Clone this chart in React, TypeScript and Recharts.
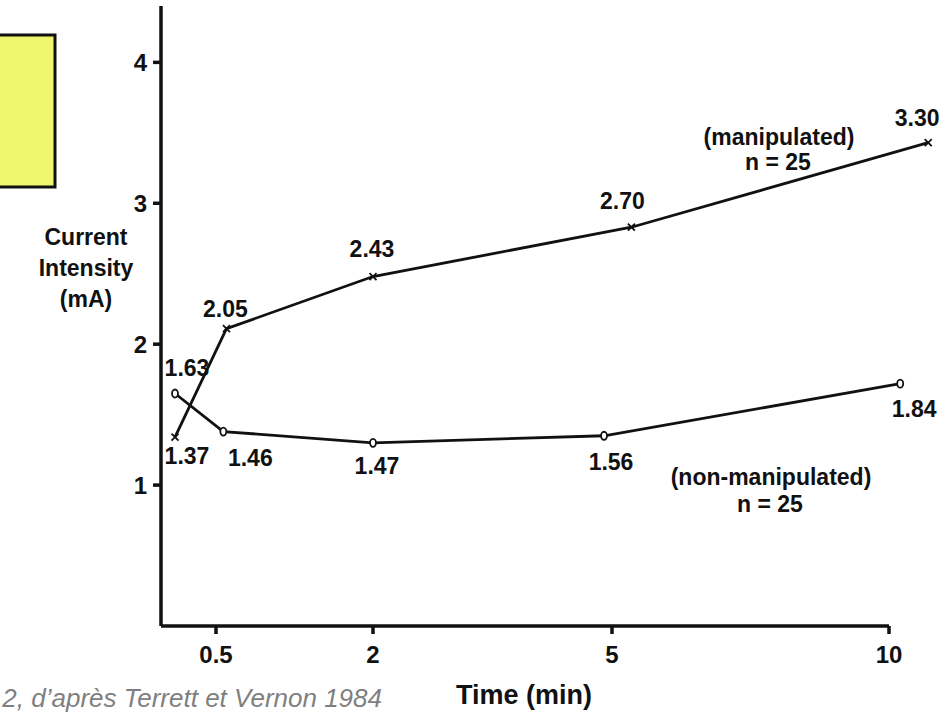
import React from "react";
import { LineChart, Line, XAxis, YAxis, ReferenceLine } from "recharts";

// time (min) of each measurement, as plotted in the figure
const manipTime = [0, 0.6, 2.0, 5.35, 10.7];
const manipValue = [1.34, 2.11, 2.48, 2.83, 3.43];
const manipLabels = ["1.37", "2.05", "2.43", "2.70", "3.30"];

const nonTime = [0, 0.57, 2.0, 4.9, 10.2];
const nonValue = [1.65, 1.38, 1.3, 1.35, 1.72];
const nonLabels = ["1.63", "1.46", "1.47", "1.56", "1.84"];

const xTicks = [0.5, 2, 5, 10];
const yTicks = [1, 2, 3, 4];

// the original time axis is hand drawn: piecewise spacing between the ticks
const X_KNOTS = [-0.3, 0, 0.5, 2, 5, 10, 11];
const X_SPACING = [0, 14, 55, 212, 451, 728, 784];

// label offsets (dx, dy of text centre) relative to each point
const manipLabelOff = [[12, 19], [-1, -20], [-1, -28], [-9, -26], [-11, -25]];
const nonLabelOff = [[12, -26], [27, 26], [4, 23], [7, 26], [14, 25]];

const FONT = "'Liberation Sans', Arial, Helvetica, sans-serif";

function warpScale(dom: number[] = [X_KNOTS[0], X_KNOTS[X_KNOTS.length - 1]], rng: number[] = [0, 1]): any {
  const total = X_SPACING[X_SPACING.length - 1];
  const s: any = (v: number) => {
    let i = 0;
    while (i < X_KNOTS.length - 2 && v > X_KNOTS[i + 1]) i++;
    const t = (v - X_KNOTS[i]) / (X_KNOTS[i + 1] - X_KNOTS[i]);
    const f = (X_SPACING[i] + t * (X_SPACING[i + 1] - X_SPACING[i])) / total;
    return rng[0] + f * (rng[1] - rng[0]);
  };
  s.domain = (d?: number[]) => (d ? ((dom = d), s) : dom);
  s.range = (r?: number[]) => (r ? ((rng = r), s) : rng);
  s.copy = () => warpScale([...dom], [...rng]);
  s.ticks = () => xTicks;
  s.invert = (px: number) => {
    const f = ((px - rng[0]) / (rng[1] - rng[0])) * total;
    let i = 0;
    while (i < X_SPACING.length - 2 && f > X_SPACING[i + 1]) i++;
    const t = (f - X_SPACING[i]) / (X_SPACING[i + 1] - X_SPACING[i]);
    return X_KNOTS[i] + t * (X_KNOTS[i + 1] - X_KNOTS[i]);
  };
  return s;
}

const manipRows = manipTime.map((t, i) => ({ t, v: manipValue[i], label: manipLabels[i] }));
const nonRows = nonTime.map((t, i) => ({ t, v: nonValue[i], label: nonLabels[i] }));

function pointLabel(cx: number, cy: number, text: string, off: number[]) {
  return (
    <text
      x={cx + off[0]}
      y={cy + off[1] + 8}
      textAnchor="middle"
      fontFamily={FONT}
      fontWeight="bold"
      fontSize={23}
      fill="#111"
    >
      {text}
    </text>
  );
}

const CrossDot = (p: any) => {
  const { cx, cy, index, payload } = p;
  return (
    <g key={`m-${index}`}>
      <path
        d={`M${cx - 3.5},${cy - 3.5}L${cx + 3.5},${cy + 3.5}M${cx - 3.5},${cy + 3.5}L${cx + 3.5},${cy - 3.5}`}
        stroke="#111"
        strokeWidth={1.8}
      />
      {pointLabel(cx, cy, payload.label, manipLabelOff[index])}
    </g>
  );
};

const CircleDot = (p: any) => {
  const { cx, cy, index, payload } = p;
  return (
    <g key={`n-${index}`}>
      <ellipse cx={cx} cy={cy} rx={3} ry={4} fill="#fff" stroke="#111" strokeWidth={1.8} />
      {pointLabel(cx, cy, payload.label, nonLabelOff[index])}
    </g>
  );
};

const txt = { fontFamily: FONT, fontWeight: "bold" as const, fill: "#111" };

export default function App() {
  return (
    <div style={{ position: "absolute", left: 0, top: 0, width: 946, height: 714, background: "#fff", overflow: "hidden" }}>
      <LineChart width={946} height={714} margin={{ top: 6, right: 1, left: 101, bottom: 48 }}>
        <XAxis
          type="number"
          dataKey="t"
          domain={[X_KNOTS[0], X_KNOTS[X_KNOTS.length - 1]]}
          scale={warpScale()}
          ticks={xTicks}
          height={40}
          axisLine={false}
          tickLine={{ stroke: "#111", strokeWidth: 3.5 }}
          tickSize={8}
          tickMargin={12}
          tick={{ fontFamily: FONT, fontWeight: "bold", fontSize: 24, fill: "#111" }}
          allowDataOverflow
        />
        <YAxis
          type="number"
          domain={[0, 4.4]}
          ticks={yTicks}
          width={60}
          axisLine={{ stroke: "#111", strokeWidth: 3.5 }}
          tickLine={{ stroke: "#111", strokeWidth: 3.5 }}
          tickSize={8}
          tickMargin={6}
          tick={{ fontFamily: FONT, fontWeight: "bold", fontSize: 24, fill: "#111" }}
          allowDataOverflow
        />
        <ReferenceLine
          segment={[{ x: X_KNOTS[0], y: 0 }, { x: 10, y: 0 }]}
          stroke="#111"
          strokeWidth={3.5}
        />
        <Line
          data={manipRows}
          dataKey="v"
          type="linear"
          stroke="#111"
          strokeWidth={2.8}
          dot={CrossDot}
          activeDot={false}
          isAnimationActive={false}
        />
        <Line
          data={nonRows}
          dataKey="v"
          type="linear"
          stroke="#111"
          strokeWidth={2.8}
          dot={CircleDot}
          activeDot={false}
          isAnimationActive={false}
        />
      </LineChart>
      <svg width={946} height={714} style={{ position: "absolute", left: 0, top: 0, pointerEvents: "none" }}>
        <rect x={-3} y={35} width={58} height={152} fill="#eef66e" stroke="#111" strokeWidth={3} />
        <g textAnchor="middle" fontSize={23} {...txt}>
          <text x={86} y={245}>Current</text>
          <text x={86} y={276}>Intensity</text>
          <text x={86} y={307}>(mA)</text>
          <text x={779} y={145}>(manipulated)</text>
          <text x={778} y={170}>n = 25</text>
          <text x={771} y={485}>(non-manipulated)</text>
          <text x={770} y={512}>n = 25</text>
        </g>
        <text x={524} y={704} textAnchor="middle" fontSize={27} {...txt}>
          Time (min)
        </text>
        <text x={382} y={707} textAnchor="end" fontFamily={FONT} fontStyle="italic" fontSize={26} fill="#7f7f7f">
          2, d’après Terrett et Vernon 1984
        </text>
      </svg>
    </div>
  );
}
